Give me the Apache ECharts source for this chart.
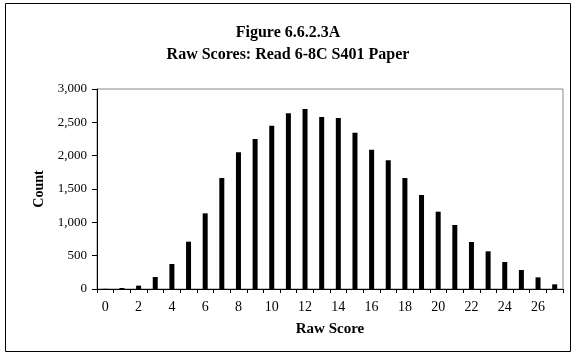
<!DOCTYPE html>
<html>
<head>
<meta charset="utf-8">
<script src="https://cdn.jsdelivr.net/npm/echarts@6/dist/echarts.min.js"></script>
<style>
html,body{margin:0;padding:0;background:#fff;}
#chart{width:576px;height:355px;}
</style>
</head>
<body>
<div id="chart"></div>
<script>
var titleLines = ['Figure 6.6.2.3A', 'Raw Scores: Read 6-8C S401 Paper'];
var categories = ['0','1','2','3','4','5','6','7','8','9','10','11','12','13','14','15','16','17','18','19','20','21','22','23','24','25','26','27'];
var counts = [3, 15, 50, 180, 375, 710, 1135, 1665, 2050, 2250, 2450, 2635, 2700, 2580, 2565, 2345, 2090, 1930, 1665, 1410, 1160, 960, 705, 565, 405, 285, 175, 70];
var yAxisName = 'Count';
var xAxisName = 'Raw Score';

var font = 'Liberation Serif, Times New Roman, serif';
var chart = echarts.init(document.getElementById('chart'), null, {renderer: 'canvas'});
chart.setOption({
  backgroundColor: '#fff',
  animation: false,
  title: {
    text: titleLines.join('\n'),
    left: 'center',
    top: 17,
    textStyle: {fontFamily: font, fontSize: 16, fontWeight: 'bold', color: '#000', lineHeight: 22}
  },
  graphic: [{
    type: 'rect',
    shape: {x: 5.5, y: 3.5, width: 565, height: 348},
    style: {fill: 'none', stroke: '#000', lineWidth: 1},
    silent: true
  }],
  grid: {left: 97, right: 13, top: 89, bottom: 66, show: true, borderColor: '#888', borderWidth: 1, backgroundColor: 'transparent'},
  xAxis: {
    type: 'category',
    data: categories,
    boundaryGap: true,
    name: xAxisName,
    nameLocation: 'middle',
    nameGap: 33,
    nameTextStyle: {fontFamily: font, fontSize: 15, fontWeight: 'bold', color: '#000'},
    axisLine: {lineStyle: {color: '#000', width: 1}},
    axisTick: {show: true, interval: 0, length: 4, inside: false, lineStyle: {color: '#000'}},
    axisLabel: {interval: 1, fontFamily: font, fontSize: 14, color: '#000', margin: 11},
    splitLine: {show: false}
  },
  yAxis: {
    type: 'value',
    min: 0, max: 3000, interval: 500,
    name: yAxisName,
    nameLocation: 'middle',
    nameGap: 51,
    nameTextStyle: {fontFamily: font, fontSize: 14, fontWeight: 'bold', color: '#000'},
    axisLine: {show: true, lineStyle: {color: '#000', width: 1}},
    axisTick: {show: true, length: 5, lineStyle: {color: '#000'}},
    axisLabel: {fontFamily: font, fontSize: 13, color: '#000', margin: 10,
      formatter: function(v){ return v.toLocaleString('en-US'); }},
    splitLine: {show: false}
  },
  series: [{
    type: 'bar',
    data: counts,
    barWidth: 5,
    itemStyle: {color: '#000'}
  }]
});
</script>
</body>
</html>
